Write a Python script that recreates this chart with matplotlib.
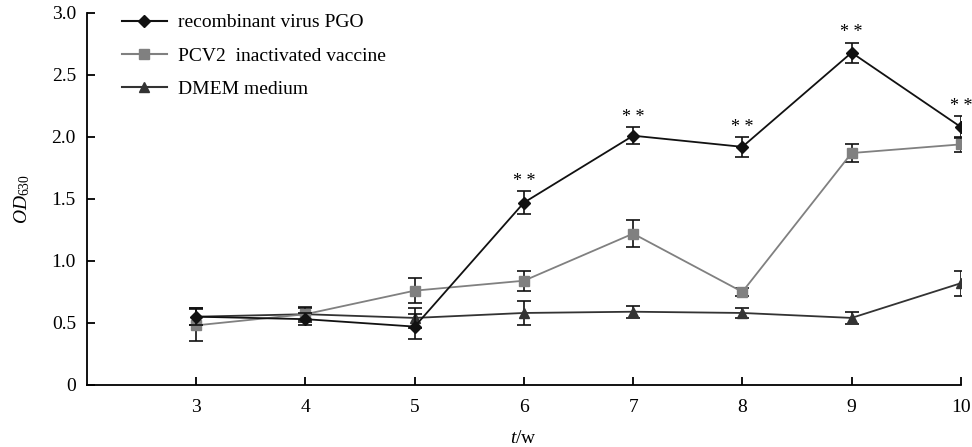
import matplotlib
matplotlib.use("Agg")
import numpy as np
import matplotlib.pyplot as plt
from matplotlib.lines import Line2D

plt.rcParams['font.family'] = ['Liberation Serif', 'DejaVu Serif']
plt.rcParams['mathtext.fontset'] = 'custom'
plt.rcParams['mathtext.it'] = 'Liberation Serif:italic'
plt.rcParams['mathtext.rm'] = 'Liberation Serif'

weeks = [3, 4, 5, 6, 7, 8, 9, 10]
pgo = [0.55, 0.53, 0.47, 1.47, 2.01, 1.92, 2.68, 2.08]
pgo_err = [0.07, 0.05, 0.10, 0.09, 0.07, 0.08, 0.08, 0.09]
pcv2 = [0.48, 0.57, 0.76, 0.84, 1.22, 0.75, 1.87, 1.94]
pcv2_err = [0.13, 0.05, 0.10, 0.08, 0.11, 0.03, 0.07, 0.06]
dmem = [0.55, 0.57, 0.54, 0.58, 0.59, 0.58, 0.54, 0.82]
dmem_err = [0.07, 0.06, 0.08, 0.10, 0.05, 0.04, 0.05, 0.10]
sig_weeks = [6, 7, 8, 9, 10]
labels = ['recombinant virus PGO', 'PCV2  inactivated vaccine', 'DMEM medium']

fig = plt.figure(figsize=(9.72, 4.47), dpi=100)
ax = fig.add_axes([0.0895, 0.139, 0.899, 0.832])

styles = [('#111111', 'D', 6), ('#808080', 's', 7), ('#333333', '^', 7)]
series = [(pgo, pgo_err), (pcv2, pcv2_err), (dmem, dmem_err)]
zs = [4, 3, 2]
for (vals, errs), (col, mk, ms), z in zip(series, styles, zs):
    ax.errorbar(weeks, vals, yerr=errs, color=col, ecolor='#111111', marker=mk, markersize=ms,
                lw=1.3, capsize=5, elinewidth=1.2, capthick=1.2, zorder=z)

for w in sig_weeks:
    i = weeks.index(w)
    ax.text(w, pgo[i] + pgo_err[i] + 0.01, '* *', ha='center', va='bottom', fontsize=13)

ax.set_xlim(2, 10)
ax.set_ylim(0, 3.0)
ax.set_xticks(weeks)
ax.set_yticks([0, 0.5, 1.0, 1.5, 2.0, 2.5, 3.0])
ax.set_yticklabels(['0', '0.5', '1.0', '1.5', '2.0', '2.5', '3.0'])
ax.tick_params(direction='in', length=6, width=1.3, labelsize=14)
ax.tick_params(axis='x', pad=10)
ax.tick_params(axis='y', pad=8)
ax.spines['top'].set_visible(False)
ax.spines['right'].set_visible(False)
for s in ['left', 'bottom']:
    ax.spines[s].set_linewidth(1.3)

ax.set_xlabel('$t$/w', fontsize=14, labelpad=10)
ax.set_ylabel('$OD_{630}$', fontsize=14, labelpad=14)

handles = [Line2D([], [], color=c, marker=m, markersize=s, lw=1.5) for c, m, s in styles]
ax.legend(handles, labels, loc='upper left', bbox_to_anchor=(0.02, 1.045), frameon=False,
          fontsize=14, handlelength=2.3, handletextpad=0.6, labelspacing=0.8)

fig.savefig('out.png', dpi=100)
